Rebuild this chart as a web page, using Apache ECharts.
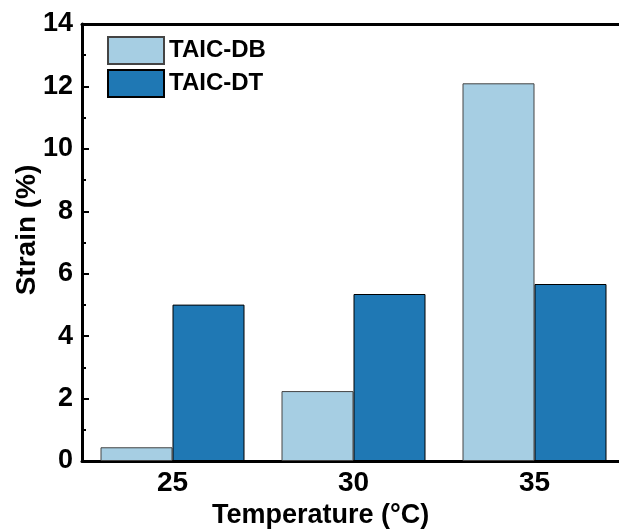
<!DOCTYPE html>
<html>
<head>
<meta charset="utf-8">
<script src="https://cdn.jsdelivr.net/npm/echarts@6/dist/echarts.min.js"></script>
<style>
  html, body { margin: 0; padding: 0; background: #fff; }
  #main { width: 619px; height: 532px; }
</style>
</head>
<body>
<div id="main"></div>
<script>
// temperature categories and strain values (%)
const temps = ['25', '30', '35'];
const taicDB = [0.44, 2.24, 12.1];
const taicDT = [5.01, 5.35, 5.67];
const seriesNames = ['TAIC-DB', 'TAIC-DT'];
const yTicks = { min: 0, max: 14, step: 2 };

const chart = echarts.init(document.getElementById('main'));
const font = 'Liberation Sans, Arial, sans-serif';

const option = {
  animation: false,
  backgroundColor: '#fff',
  grid: {
    left: 82, top: 24, bottom: 71, right: -6,
    containLabel: false,
    outerBoundsMode: 'none'
  },
  legend: {
    orient: 'vertical',
    left: 107, top: 36, padding: 0,
    itemWidth: 56, itemHeight: 27, itemGap: 4,
    icon: 'rect',
    data: seriesNames,
    textStyle: { fontFamily: font, fontWeight: 'bold', fontSize: 24, color: '#000' }
  },
  xAxis: [
    {
      type: 'category',
      data: temps,
      position: 'bottom',
      axisLine: { lineStyle: { color: '#000', width: 3 } },
      axisTick: { alignWithLabel: true, inside: true, length: 6, lineStyle: { color: '#000', width: 3 } },
      axisLabel: { interval: 0, margin: 8, fontFamily: font, fontWeight: 'bold', fontSize: 28, color: '#000' },
      splitLine: { show: false }
    },
    {
      type: 'category',
      data: temps,
      position: 'top',
      axisLine: { lineStyle: { color: '#000', width: 3 } },
      axisTick: { show: false },
      axisLabel: { show: false },
      splitLine: { show: false }
    },
    {
      // small ticks between the groups
      type: 'category',
      data: temps,
      position: 'bottom',
      axisLine: { show: false },
      axisTick: { inside: true, length: 3, lineStyle: { color: '#000', width: 2 } },
      axisLabel: { show: false },
      splitLine: { show: false }
    }
  ],
  yAxis: {
    type: 'value',
    min: yTicks.min, max: yTicks.max, interval: yTicks.step,
    axisLine: { show: true, lineStyle: { color: '#000', width: 3 } },
    axisTick: { show: true, inside: true, length: 7, lineStyle: { color: '#000', width: 2 } },
    minorTick: { show: true, splitNumber: 2, length: 4, lineStyle: { color: '#000', width: 2 } },
    axisLabel: { margin: 9, fontFamily: font, fontWeight: 'bold', fontSize: 27, color: '#000' },
    splitLine: { show: false }
  },
  graphic: [
    {
      type: 'text',
      left: 212, top: 502,
      style: {
        text: 'Temperature (°C)',
        fontFamily: font, fontWeight: 'bold', fontSize: 27, fill: '#000'
      }
    },
    {
      type: 'text',
      x: 27, y: 230,
      rotation: Math.PI / 2,
      style: {
        text: 'Strain (%)',
        align: 'center', verticalAlign: 'middle',
        fontFamily: font, fontWeight: 'bold', fontSize: 28, fill: '#000'
      }
    }
  ],
  series: [
    {
      name: seriesNames[0],
      type: 'bar',
      data: taicDB,
      barWidth: 72,
      barGap: '0%',
      itemStyle: { color: '#a6cee3', borderColor: '#444', borderWidth: 1 }
    },
    {
      name: seriesNames[1],
      type: 'bar',
      data: taicDT,
      barWidth: 72,
      barGap: '0%',
      itemStyle: { color: '#1f78b4', borderColor: '#000', borderWidth: 1 }
    }
  ]
};

chart.setOption(option);
</script>
</body>
</html>
